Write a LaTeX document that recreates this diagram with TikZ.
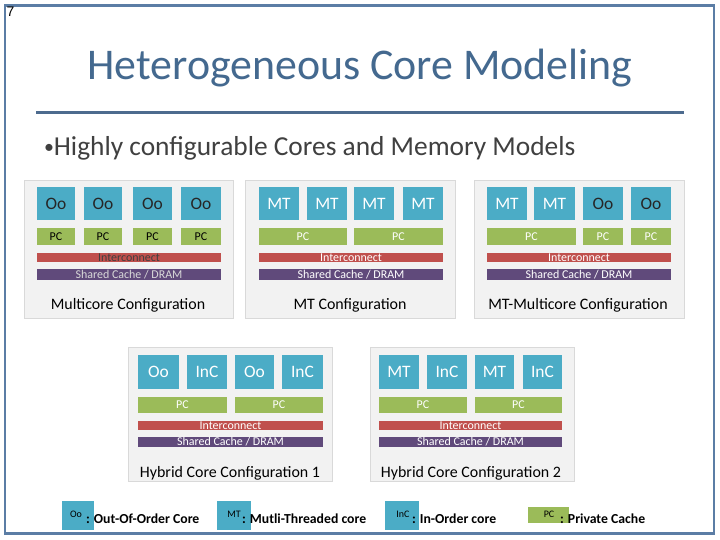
\documentclass[tikz,border=0pt]{standalone}
\usepackage{fontspec}
\setmainfont{Carlito}
\newfontfamily\numfont{Liberation Sans}
\definecolor{frameblue}{HTML}{5B7DA5}
\definecolor{titleblue}{HTML}{44698F}
\definecolor{rulec}{HTML}{4D6B8E}
\definecolor{bodyg}{HTML}{404040}
\definecolor{panelf}{HTML}{F2F2F2}
\definecolor{paneld}{HTML}{D9D9D9}
\definecolor{corec}{HTML}{4BACC6}
\definecolor{pcc}{HTML}{9BBB59}
\definecolor{icc}{HTML}{C0504D}
\definecolor{scc}{HTML}{604A7B}
\newcommand\blk[7]{\node[#6, minimum width={(#4-#2)*1bp}, minimum height={(#5-#3)*1bp}] (#1) at ({(#2+#4)/2},{(#3+#5)/2}) {#7};}
\tikzset{
  base/.style={inner sep=0pt, outer sep=0pt, draw=none},
  panel/.style={base, fill=panelf, draw=paneld, line width=0.8bp},
  core/.style={base, fill=corec, font=\fontsize{17.5}{18}\selectfont, text=white},
  oocore/.style={core, text=black!85},
  pc/.style={base, fill=pcc, font=\fontsize{12}{12}\selectfont, text=white},
  ic/.style={base, fill=icc, font=\fontsize{12}{12}\selectfont, text=white},
  sc/.style={base, fill=scc, font=\fontsize{12}{12}\selectfont, text=white},
  plabel/.style={base, font=\fontsize{16}{16}\selectfont, text=black},
  lgbox/.style={base, fill=corec},
  lgsmall/.style={base, font=\fontsize{10}{10}\selectfont, text=black},
  lgtext/.style={base, anchor=west, font=\fontsize{13.8}{14}\selectfont\bfseries, text=black},
}
\begin{document}
\begin{tikzpicture}[x=1bp,y=-1bp]
\useasboundingbox (0,0) rectangle (720,540);
\fill[white] (0,0) rectangle (720,540);
% frame
\node[base, draw=frameblue, line width=2.5bp, minimum width=709bp, minimum height=528bp] (frame) at (359.5,269.5) {};
\node[base, anchor=north west, font=\numfont\fontsize{14}{14}\selectfont] (num) at (6.5,7) {7};
% title
\node[base, text=titleblue, font=\fontsize{44}{44}\selectfont] (title) at (360,68) {Heterogeneous Core Modeling};
\coordinate (rl) at (36,113);
\coordinate (rr) at (684,113);
\draw[rulec, line width=3bp] (rl) -- (rr);
\node[base, anchor=west, text=bodyg, font=\fontsize{27.5}{28}\selectfont] (bullet) at (44,148) {{\fontsize{20}{20}\selectfont\raisebox{1.5bp}{•}}Highly configurable Cores and Memory Models};

% Panel 1
\blk{p1}{24}{180}{233}{318}{panel}{}
\blk{p1c1}{37}{187}{75}{220}{oocore}{Oo}
\blk{p1c2}{84}{187}{122}{220}{oocore}{Oo}
\blk{p1c3}{133}{187}{172}{220}{oocore}{Oo}
\blk{p1c4}{181}{187}{221}{220}{oocore}{Oo}
\blk{p1p1}{37}{228}{75}{245}{pc,text=black}{PC}
\blk{p1p2}{84}{228}{122}{245}{pc,text=black}{PC}
\blk{p1p3}{133}{228}{172}{245}{pc,text=black}{PC}
\blk{p1p4}{181}{228}{221}{245}{pc,text=black}{PC}
\blk{p1i}{37}{253}{221}{262}{ic,text=black!75}{Interconnect}
\blk{p1s}{37}{269}{221}{280}{sc,text=white!85!black}{Shared Cache / DRAM}
\node[plabel] (p1l) at (128,305) {Multicore Configuration};

% Panel 2
\blk{p2}{245}{180}{455}{318}{panel}{}
\blk{p2c1}{259}{187}{299}{220}{core}{MT}
\blk{p2c2}{307}{187}{347}{220}{core}{MT}
\blk{p2c3}{354}{187}{394}{220}{core}{MT}
\blk{p2c4}{403}{187}{443}{220}{core}{MT}
\blk{p2p1}{259}{228}{347}{245}{pc}{PC}
\blk{p2p2}{354}{228}{443}{245}{pc}{PC}
\blk{p2i}{259}{253}{443}{262}{ic}{Interconnect}
\blk{p2s}{259}{269}{443}{280}{sc}{Shared Cache / DRAM}
\node[plabel] (p2l) at (350,305) {MT Configuration};

% Panel 3
\blk{p3}{474}{180}{684}{318}{panel}{}
\blk{p3c1}{487}{187}{527}{220}{core}{MT}
\blk{p3c2}{534}{187}{575}{220}{core}{MT}
\blk{p3c3}{583}{187}{623}{220}{oocore}{Oo}
\blk{p3c4}{631}{187}{671}{220}{oocore}{Oo}
\blk{p3p1}{487}{228}{576}{245}{pc}{PC}
\blk{p3p2}{583}{228}{623}{245}{pc}{PC}
\blk{p3p3}{631}{228}{671}{245}{pc}{PC}
\blk{p3i}{487}{253}{671}{262}{ic}{Interconnect}
\blk{p3s}{487}{269}{671}{280}{sc}{Shared Cache / DRAM}
\node[plabel] (p3l) at (578,305) {MT-Multicore Configuration};

% Panel 4
\blk{p4}{128}{347}{332}{481}{panel}{}
\blk{p4c1}{138}{355}{179}{389}{core}{Oo}
\blk{p4c2}{187}{355}{227}{389}{core}{InC}
\blk{p4c3}{235}{355}{274}{389}{core}{Oo}
\blk{p4c4}{282}{355}{323}{389}{core}{InC}
\blk{p4p1}{138}{397}{227}{413}{pc}{PC}
\blk{p4p2}{235}{397}{323}{413}{pc}{PC}
\blk{p4i}{138}{421}{323}{430}{ic}{Interconnect}
\blk{p4s}{138}{437}{323}{447}{sc}{Shared Cache / DRAM}
\node[plabel] (p4l) at (230,473) {Hybrid Core Configuration 1};

% Panel 5
\blk{p5}{370}{347}{574}{481}{panel}{}
\blk{p5c1}{379}{355}{419}{389}{core}{MT}
\blk{p5c2}{427}{355}{467}{389}{core}{InC}
\blk{p5c3}{475}{355}{514}{389}{core}{MT}
\blk{p5c4}{523}{355}{562}{389}{core}{InC}
\blk{p5p1}{379}{397}{467}{413}{pc}{PC}
\blk{p5p2}{475}{397}{562}{413}{pc}{PC}
\blk{p5i}{379}{421}{562}{430}{ic}{Interconnect}
\blk{p5s}{379}{437}{562}{447}{sc}{Shared Cache / DRAM}
\node[plabel] (p5l) at (471,473) {Hybrid Core Configuration 2};

% Legend
\blk{lg1}{62}{501}{94}{530}{lgbox}{}
\node[lgsmall] (lg1s) at (76,514) {Oo};
\node[lgtext] (lg1t) at (86,519) {: Out-Of-Order Core};
\blk{lg2}{217}{501}{251}{530}{lgbox}{}
\node[lgsmall] (lg2s) at (234,514) {MT};
\node[lgtext] (lg2t) at (242,519) {: Mutli-Threaded core};
\blk{lg3}{385}{501}{419}{530}{lgbox}{}
\node[lgsmall] (lg3s) at (403,514) {InC};
\node[lgtext] (lg3t) at (412,519) {: In-Order core};
\blk{lg4}{528}{507}{569}{523}{lgbox,fill=pcc}{}
\node[lgsmall] (lg4s) at (549,514) {PC};
\node[lgtext] (lg4t) at (560,519) {: Private Cache};
\end{tikzpicture}
\end{document}
